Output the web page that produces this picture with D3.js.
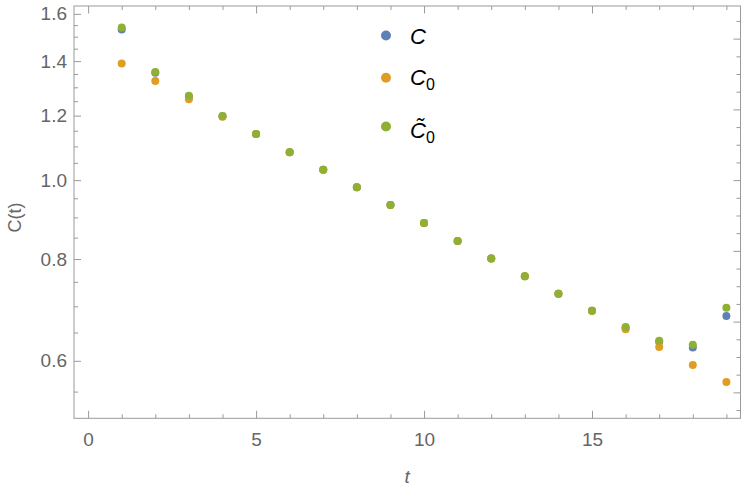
<!DOCTYPE html>
<html>
<head>
<meta charset="utf-8">
<script src="https://cdn.jsdelivr.net/npm/d3@7"></script>
<style>
  html, body { margin: 0; padding: 0; background: #fff; }
  svg { display: block; }
  text { font-family: "Liberation Sans", Arial, sans-serif; }
</style>
</head>
<body>
<svg id="chart" width="747" height="492"></svg>
<script>
// ---- data ----
const times = [1,2,3,4,5,6,7,8,9,10,11,12,13,14,15,16,17,18,19];
const seriesC = [1.531,1.355,1.266,1.198,1.139,1.082,1.030,0.980,0.932,0.886,0.842,0.801,0.762,0.725,0.691,0.659,0.633,0.623,0.681];
const seriesC0 = [1.391,1.323,1.257,1.196,1.139,1.082,1.030,0.980,0.932,0.886,0.842,0.801,0.762,0.725,0.691,0.656,0.624,0.593,0.565];
const seriesC0t = [1.540,1.358,1.269,1.199,1.139,1.082,1.030,0.980,0.932,0.886,0.842,0.801,0.762,0.725,0.691,0.660,0.635,0.628,0.697];
const xMajorTicks = [0,5,10,15];
const xMinorTicks = [1,2,3,4,6,7,8,9,11,12,13,14,16,17,18,19];
const yMajorTicks = [0.6,0.8,1.0,1.2,1.4,1.6];
const yMinorTicks = [0.55,0.65,0.7,0.75,0.85,0.9,0.95,1.05,1.1,1.15,1.25,1.3,1.35,1.45,1.5,1.55];
const yRightMajorLn = [-0.6,-0.4,-0.2,0,0.2,0.4];
const yRightMinorLn = [-0.65,-0.55,-0.5,-0.45,-0.35,-0.3,-0.25,-0.15,-0.1,-0.05,0.05,0.1,0.15,0.25,0.3,0.35,0.45];

const colors = { C: "#5e81b5", C0: "#e19c24", C0t: "#8fb032" };

// ---- layout ----
const L = 74, R = 740.5, T = 6, B = 418.3;
const svg = d3.select("#chart");

const x = d3.scaleLinear().domain([-0.42, 19.42]).range([L, R]);
const y = d3.scaleLog().domain([0.51, 1.636]).range([B, T]);

const frameColor = "#9a9a9a";
const labelColor = "#666";

function styleAxis(g) {
  g.select(".domain").remove();
  g.selectAll(".tick line").attr("stroke", frameColor).attr("stroke-width", 1);
  g.selectAll(".tick text").attr("fill", labelColor).style("font-size", "19px")
    .style("font-family", '"Liberation Sans", Arial, sans-serif');
}

// bottom axis
svg.append("g").attr("transform", `translate(0,${B})`)
  .call(d3.axisBottom(x).tickValues(xMajorTicks).tickSizeInner(-7.5).tickSizeOuter(0).tickPadding(14).tickFormat(d3.format("d")))
  .call(styleAxis);
svg.append("g").attr("transform", `translate(0,${B})`)
  .call(d3.axisBottom(x).tickValues(xMinorTicks).tickSizeInner(-4).tickSizeOuter(0).tickFormat(""))
  .call(styleAxis);
// top axis
svg.append("g").attr("transform", `translate(0,${T})`)
  .call(d3.axisTop(x).tickValues(xMajorTicks).tickSizeInner(-7.5).tickSizeOuter(0).tickFormat(""))
  .call(styleAxis);
svg.append("g").attr("transform", `translate(0,${T})`)
  .call(d3.axisTop(x).tickValues(xMinorTicks).tickSizeInner(-4).tickSizeOuter(0).tickFormat(""))
  .call(styleAxis);
// left axis
svg.append("g").attr("transform", `translate(${L},0)`)
  .call(d3.axisLeft(y).tickValues(yMajorTicks).tickSizeInner(-7).tickSizeOuter(0).tickPadding(7).tickFormat(d3.format(".1f")))
  .call(styleAxis);
svg.append("g").attr("transform", `translate(${L},0)`)
  .call(d3.axisLeft(y).tickValues(yMinorTicks).tickSizeInner(-4).tickSizeOuter(0).tickFormat(""))
  .call(styleAxis);
// right axis (ticks in log coordinate)
svg.append("g").attr("transform", `translate(${R},0)`)
  .call(d3.axisRight(y).tickValues(yRightMajorLn.map(Math.exp)).tickSizeInner(-7).tickSizeOuter(0).tickFormat(""))
  .call(styleAxis);
svg.append("g").attr("transform", `translate(${R},0)`)
  .call(d3.axisRight(y).tickValues(yRightMinorLn.map(Math.exp)).tickSizeInner(-4).tickSizeOuter(0).tickFormat(""))
  .call(styleAxis);

// frame
svg.append("rect").attr("x", L).attr("y", T).attr("width", R - L).attr("height", B - T)
  .attr("fill", "none").attr("stroke", frameColor).attr("stroke-width", 1);

// axis labels
svg.append("text").attr("x", x(9.5)).attr("y", 483)
  .attr("text-anchor", "middle").attr("fill", labelColor)
  .style("font-size", "19px").style("font-style", "italic").text("t");
svg.append("text").attr("transform", `translate(21,${y(0.9)}) rotate(-90)`)
  .attr("text-anchor", "middle").attr("fill", labelColor)
  .style("font-size", "18px").text("C(t)");

// points
const series = [
  { key: "C", vals: seriesC },
  { key: "C0", vals: seriesC0 },
  { key: "C0t", vals: seriesC0t }
];
series.forEach(s => {
  svg.append("g").selectAll("circle").data(times.map((t, i) => [t, s.vals[i]]))
    .join("circle")
    .attr("cx", d => x(d[0])).attr("cy", d => y(d[1])).attr("r", 4)
    .attr("fill", colors[s.key]);
});

// legend
const leg = svg.append("g");
const legRows = [
  { key: "C", label: "C", cy: 35.5, dy: 8, sub: false },
  { key: "C0", label: "C", cy: 77.7, dy: 7.5, sub: true },
  { key: "C0t", label: "C\u0303", cy: 126.5, dy: 11.5, sub: true }
];
legRows.forEach(r => {
  leg.append("circle").attr("cx", 386).attr("cy", r.cy).attr("r", 5).attr("fill", colors[r.key]);
  const t = leg.append("text").attr("x", 410).attr("y", r.cy + r.dy)
    .attr("fill", "#000").style("font-size", "22px");
  t.append("tspan").style("font-style", "italic").text(r.label);
  if (r.sub) {
    t.append("tspan").attr("dy", 5).style("font-size", "16px").text("0");
  }
});
</script>
</body>
</html>
